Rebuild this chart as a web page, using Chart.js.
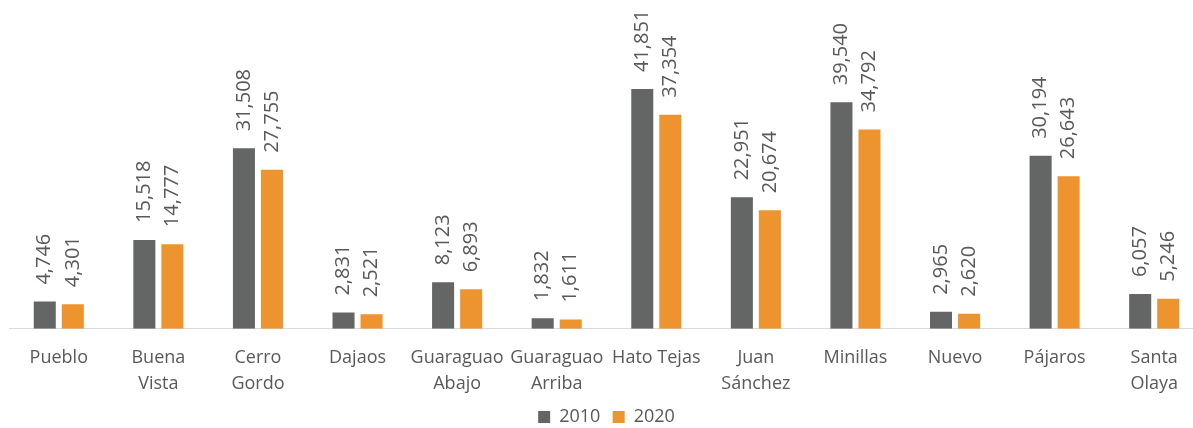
<!DOCTYPE html>
<html>
<head>
<meta charset="utf-8">
<script src="https://cdn.jsdelivr.net/npm/chart.js@4"></script>
<style>
  html, body { margin: 0; padding: 0; background: #fff; overflow: hidden; }
  #wrap { position: relative; width: 1204px; height: 428px; }
</style>
</head>
<body>
<div id="wrap"><canvas id="chart"></canvas></div>
<script>
const categories = ['Pueblo', ['Buena', 'Vista'], ['Cerro', 'Gordo'], 'Dajaos', ['Guaraguao', 'Abajo'],
  ['Guaraguao', 'Arriba'], 'Hato Tejas', ['Juan', 'Sánchez'], 'Minillas', 'Nuevo', 'Pájaros', ['Santa', 'Olaya']]
const values2010 = [4746, 15518, 31508, 2831, 8123, 1832, 41851, 22951, 39540, 2965, 30194, 6057]
const values2020 = [4301, 14777, 27755, 2521, 6893, 1611, 37354, 20674, 34792, 2620, 26643, 5246]
const seriesNames = ['2010', '2020']

const GRAY = '#636664'
const ORANGE = '#ee942f'
const TEXT = '#595959'
const FONT = "'Open Sans', sans-serif"

// rotated value labels above each bar
const barLabels = {
    id: 'barLabels',
    afterDatasetsDraw(chart) {
        const ctx = chart.ctx
        ctx.save()
        ctx.fillStyle = TEXT
        ctx.font = '20px ' + FONT
        ctx.textAlign = 'left'
        ctx.textBaseline = 'middle'
        chart.data.datasets.forEach((ds, i) => {
            chart.getDatasetMeta(i).data.forEach((bar, j) => {
                ctx.save()
                ctx.translate(bar.x, bar.y - 17)
                ctx.rotate(-Math.PI / 2)
                ctx.fillText(ds.data[j].toLocaleString('en-US'), 0, 0)
                ctx.restore()
            })
        })
        ctx.restore()
    }
}

new Chart(document.getElementById('chart'), {
    type: 'bar',
    data: {
        labels: categories,
        datasets: [
            { label: seriesNames[0], data: values2010, backgroundColor: GRAY },
            { label: seriesNames[1], data: values2020, backgroundColor: ORANGE }
        ]
    },
    options: {
        responsive: true,
        maintainAspectRatio: false,
        animation: false,
        categoryPercentage: 0.563,
        barPercentage: 0.786,
        layout: { padding: { left: 9, right: 0, top: 0, bottom: -8 } },
        scales: {
            x: {
                grid: { display: false },
                border: { display: true, color: '#d9d9d9', width: 1 },
                ticks: { color: TEXT, font: { family: FONT, size: 18, lineHeight: 1.45 }, maxRotation: 0, autoSkip: false, padding: 8 }
            },
            y: { display: false, min: 0, max: 57400 }
        },
        plugins: {
            legend: {
                position: 'bottom',
                labels: {
                    color: TEXT, font: { family: FONT, size: 18 }, boxWidth: 12, boxHeight: 12, padding: 3,
                    // a little extra room after the first entry, like the original
                    generateLabels(chart) {
                        const items = Chart.defaults.plugins.legend.labels.generateLabels(chart)
                        items.forEach((it, k) => { if (k < items.length - 1) it.text += '\u00a0\u00a0' })
                        return items
                    }
                }
            },
            tooltip: { enabled: false }
        }
    },
    plugins: [barLabels]
})
</script>
</body>
</html>
